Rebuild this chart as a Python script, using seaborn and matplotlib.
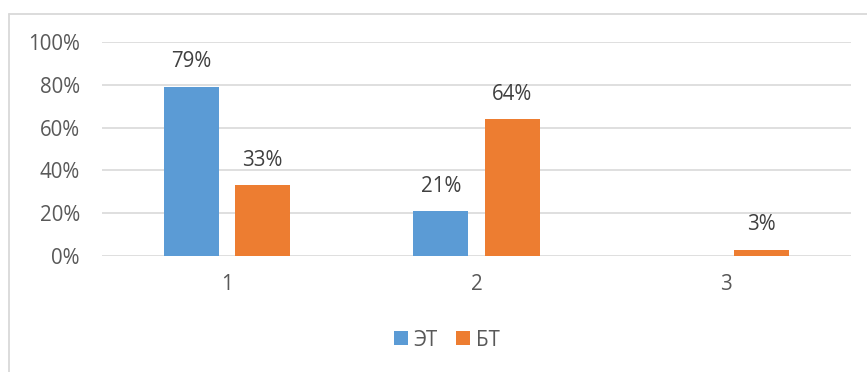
import matplotlib
matplotlib.use("Agg")
import matplotlib.pyplot as plt
from matplotlib.patches import Patch
from matplotlib.lines import Line2D
import seaborn as sns
import pandas as pd

categories = ["1", "2", "3"]
series_names = ["ЭТ", "БТ"]
et_values = [79, 21, 0]
bt_values = [33, 64, 3]
y_ticks = [0, 20, 40, 60, 80, 100]
colors = ["#5B9BD5", "#ED7D31"]

df = pd.DataFrame({
    "cat": categories * 2,
    "series": [series_names[0]] * 3 + [series_names[1]] * 3,
    "value": et_values + bt_values,
})

sns.set_theme(style="white")
plt.rcParams["font.family"] = ["Open Sans", "DejaVu Sans"]

FS = 14.8
W, H = 867, 372
fig = plt.figure(figsize=(W / 100, H / 100), dpi=100)
ax = fig.add_axes([102 / W, (H - 256) / H, (851 - 102) / W, (256 - 42) / H])

sns.barplot(data=df, x="cat", y="value", hue="series", order=categories,
            hue_order=series_names, palette=colors, width=0.57, gap=0.225,
            saturation=1, ax=ax, legend=False, linewidth=0)

ax.set_ylim(0, 100)
ax.set_xlim(-0.5, 2.5)
ax.set_yticks(y_ticks)
ax.set_yticklabels([f"{t}%" for t in y_ticks])
ax.grid(axis="y", color="#D9D9D9", linewidth=1.2)
ax.set_axisbelow(True)
for s in ax.spines.values():
    s.set_visible(False)
ax.tick_params(axis="both", length=0, labelsize=FS, labelcolor="#595959")
ax.tick_params(axis="y", pad=16)
ax.tick_params(axis="x", pad=13)
ax.set_xlabel("")
ax.set_ylabel("")

for cont in ax.containers:
    for bar in cont:
        h = bar.get_height()
        if h > 0:
            ax.annotate(f"{h:.0f}%", (bar.get_x() + bar.get_width() / 2, h),
                        xytext=(0, 18), textcoords="offset points",
                        ha="center", va="center", fontsize=FS, color="#404040")

handles = [Patch(facecolor=c, edgecolor="none") for c in colors]
fig.legend(handles, series_names, loc="center", bbox_to_anchor=(447 / W, 1 - 340 / H),
           ncol=2, frameon=False, fontsize=FS, handlelength=0.65, handleheight=0.65,
           handletextpad=0.3, columnspacing=0.9, labelcolor="#595959")

# chart border (left and top visible)
fig.add_artist(Line2D([8.5 / W, 8.5 / W], [0, 1 - 13.5 / H], transform=fig.transFigure,
                      color="#D9D9D9", linewidth=1.3))
fig.add_artist(Line2D([8.5 / W, 1], [1 - 13.5 / H, 1 - 13.5 / H], transform=fig.transFigure,
                      color="#D9D9D9", linewidth=1.3))

fig.savefig("out.png", dpi=100, facecolor="white")
